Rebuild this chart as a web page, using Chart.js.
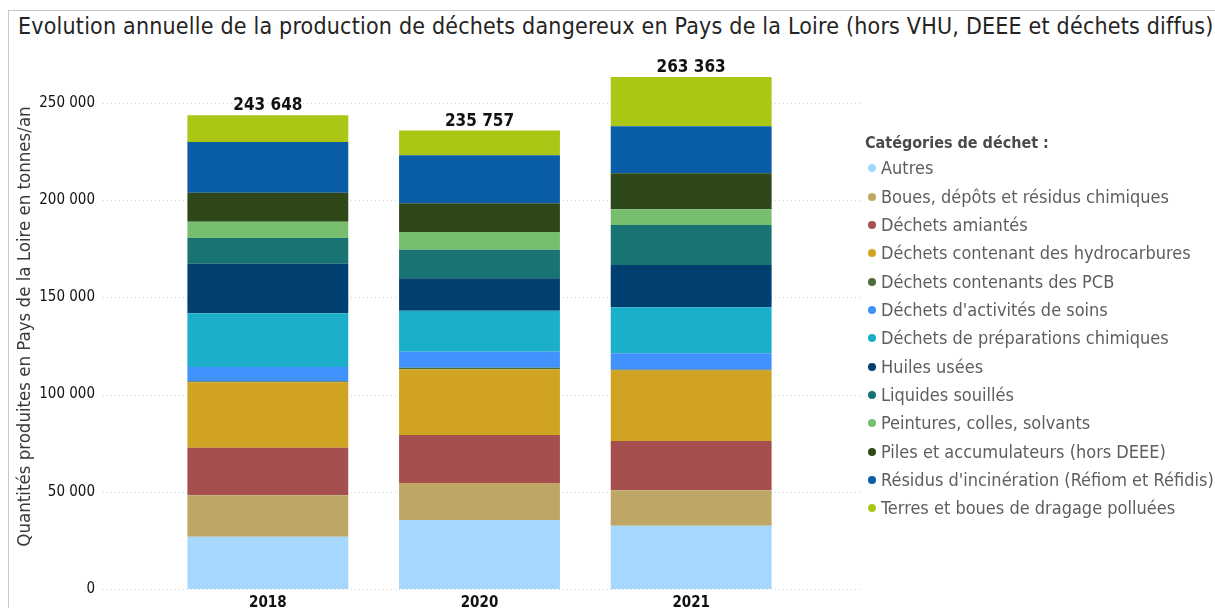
<!DOCTYPE html>
<html lang="fr">
<head>
<meta charset="utf-8">
<title>Déchets dangereux - Pays de la Loire</title>
<script src="https://cdn.jsdelivr.net/npm/chart.js@4.4.1/dist/chart.umd.min.js"></script>
<style>
  body {
    margin: 0;
    width: 1215px;
    height: 608px;
    overflow: hidden;
    background: #fff;
    font-family: 'DejaVu Sans Condensed', 'DejaVu Sans', sans-serif;
  }
  .frame {
    position: absolute;
    left: 8px;
    top: 10px;
    right: 0;
    bottom: 0;
    border-left: 1px solid #c8c6c4;
    border-top: 1px solid #c8c6c4;
  }
  h1 {
    position: absolute;
    left: 18px;
    top: 15px;
    margin: 0;
    font-weight: normal;
    font-size: 23px;
    line-height: 23px;
    letter-spacing: 0.2px;
    color: #252423;
    white-space: nowrap;
  }
  canvas {
    position: absolute;
    left: 0;
    top: 0;
  }
  #legend {
    position: absolute;
    left: 0;
    top: 0;
    color: #605e5c;
    font-size: 18px;
  }
  #legend .head {
    position: absolute;
    left: 865px;
    top: 129px;
    line-height: 28px;
    font-size: 16px;
    font-weight: bold;
    color: #4a4a4a;
    white-space: nowrap;
  }
  #legend .item {
    position: absolute;
    left: 868px;
    height: 28px;
    line-height: 28px;
    white-space: nowrap;
  }
  #legend .dot {
    display: inline-block;
    width: 8px;
    height: 8px;
    border-radius: 50%;
    margin-right: 5px;
    vertical-align: 2px;
  }
</style>
</head>
<body>
<div class="frame"></div>
<h1>Evolution annuelle de la production de déchets dangereux en Pays de la Loire (hors VHU, DEEE et déchets diffus)</h1>
<canvas id="dechetsChart" width="1215" height="608"></canvas>
<div id="legend"></div>
<script>
// Tonnages per year, bottom segment first
const years = ['2018', '2020', '2021'];
const autres = [26900, 35500, 32500];
const boues = [21300, 19000, 18300];
const amiante = [24500, 24700, 25300];
const hydrocarbures = [33600, 33800, 36300];
const pcb = [500, 800, 550];
const soins = [7400, 8200, 8250];
const prepChimiques = [27600, 21100, 23650];
const huiles = [25500, 16700, 21800];
const liquides = [13200, 14700, 20550];
const peintures = [8400, 9100, 8100];
const piles = [14900, 14800, 18500];
const residus = [26100, 24700, 24200];
const terres = [13748, 12657, 25363];

const yTicks = [0, 50000, 100000, 150000, 200000, 250000];

const categories = [
    { label: 'Autres', data: autres, color: '#a6d7fd' },
    { label: 'Boues, dépôts et résidus chimiques', data: boues, color: '#bea764' },
    { label: 'Déchets amiantés', data: amiante, color: '#a64f4f' },
    { label: 'Déchets contenant des hydrocarbures', data: hydrocarbures, color: '#d0a422' },
    { label: 'Déchets contenants des PCB', data: pcb, color: '#4f6b3f' },
    { label: "Déchets d'activités de soins", data: soins, color: '#4192fc' },
    { label: 'Déchets de préparations chimiques', data: prepChimiques, color: '#1bafca' },
    { label: 'Huiles usées', data: huiles, color: '#003f6f' },
    { label: 'Liquides souillés', data: liquides, color: '#1a7373' },
    { label: 'Peintures, colles, solvants', data: peintures, color: '#77be6f' },
    { label: 'Piles et accumulateurs (hors DEEE)', data: piles, color: '#2e481a' },
    { label: "Résidus d'incinération (Réfiom et Réfidis)", data: residus, color: '#095ca6' },
    { label: 'Terres et boues de dragage polluées', data: terres, color: '#abc614' }
];

const FONT = "'DejaVu Sans Condensed', 'DejaVu Sans', sans-serif";

// "243 648" style thousands grouping
const fmt = (n) => String(Math.round(n)).replace(/\B(?=(\d{3})+(?!\d))/g, ' ');

// Dotted horizontal guides, running past the plot up to the legend
const dottedGrid = {
    id: 'dottedGrid',
    beforeDatasetsDraw(chart) {
        const { ctx, chartArea } = chart;
        const y = chart.scales.y;
        ctx.save();
        ctx.strokeStyle = '#d2d2d2';
        ctx.lineWidth = 1;
        ctx.setLineDash([1, 3]);
        y.ticks.forEach(t => {
            const py = Math.round(y.getPixelForValue(t.value)) + 0.5;
            ctx.beginPath();
            ctx.moveTo(chartArea.left - 59, py);
            ctx.lineTo(chartArea.right + 66, py);
            ctx.stroke();
        });
        ctx.restore();
    }
};

// Year totals written on top of each stack
const stackTotals = {
    id: 'stackTotals',
    afterDatasetsDraw(chart) {
        const { ctx } = chart;
        const topMeta = chart.getDatasetMeta(chart.data.datasets.length - 1);
        ctx.save();
        ctx.font = 'bold 17px ' + FONT;
        ctx.fillStyle = '#111';
        ctx.textAlign = 'center';
        ctx.textBaseline = 'alphabetic';
        years.forEach((yr, i) => {
            const total = chart.data.datasets.reduce((s, ds) => s + ds.data[i], 0);
            const bar = topMeta.data[i];
            ctx.fillText(fmt(total), bar.x, bar.y - 5);
        });
        ctx.restore();
    }
};

const ctx = document.getElementById('dechetsChart').getContext('2d');

const chart = new Chart(ctx, {
    type: 'bar',
    data: {
        labels: years,
        datasets: categories.map(c => ({
            label: c.label,
            data: c.data,
            backgroundColor: c.color,
            borderWidth: 0,
            barPercentage: 0.76,
            categoryPercentage: 1
        }))
    },
    options: {
        responsive: false,
        animation: false,
        layout: {
            padding: { left: 12, right: 418, top: 64, bottom: 0 }
        },
        plugins: {
            legend: { display: false },
            tooltip: { enabled: false }
        },
        scales: {
            x: {
                stacked: true,
                grid: { display: false, drawTicks: false },
                border: { display: false },
                ticks: {
                    color: '#111',
                    padding: 5,
                    font: { family: FONT, size: 15, weight: 'bold' }
                },
                afterFit(scale) {
                    scale.height = 19;
                }
            },
            y: {
                stacked: true,
                min: 0,
                max: 270000,
                // invisible tick marks push the labels away from the bars
                grid: { display: false, drawTicks: true, tickLength: 59 },
                border: { display: false },
                afterBuildTicks(scale) {
                    scale.ticks = yTicks.map(v => ({ value: v }));
                },
                ticks: {
                    color: '#111',
                    padding: 8,
                    font: { family: FONT, size: 15 },
                    callback: (v) => fmt(v)
                },
                title: {
                    display: true,
                    text: 'Quantités produites en Pays de la Loire en tonnes/an',
                    color: '#3b3a39',
                    padding: { top: 2, bottom: 0 },
                    font: { family: FONT, size: 18.5 }
                },
                afterFit(scale) {
                    scale.width = 150;
                }
            }
        }
    },
    plugins: [dottedGrid, stackTotals]
});

// Legend built from the chart's own datasets
const legendEl = document.getElementById('legend');
const head = document.createElement('div');
head.className = 'head';
head.textContent = 'Catégories de déchet :';
legendEl.appendChild(head);
chart.data.datasets.forEach((ds, i) => {
    const row = document.createElement('div');
    row.className = 'item';
    row.style.top = (154.2 + 28.33 * i) + 'px';
    const dot = document.createElement('span');
    dot.className = 'dot';
    dot.style.background = ds.backgroundColor;
    row.appendChild(dot);
    row.appendChild(document.createTextNode(ds.label));
    legendEl.appendChild(row);
});
</script>
</body>
</html>
